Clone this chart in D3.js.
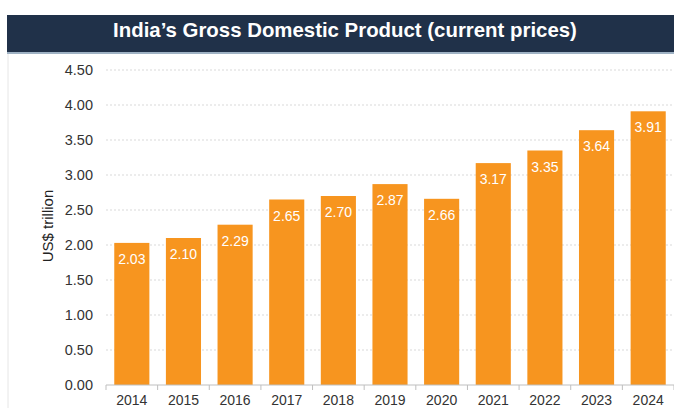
<!DOCTYPE html>
<html><head><meta charset="utf-8">
<script src="https://cdn.jsdelivr.net/npm/d3@7"></script>
<style>body{margin:0;background:#fff;}svg{display:block;font-family:"Liberation Sans",Arial,sans-serif;}</style>
</head><body><svg id="c" width="674" height="408"></svg>
<script>
const years = ["2014","2015","2016","2017","2018","2019","2020","2021","2022","2023","2024"];
const gdp = [2.03,2.10,2.29,2.65,2.70,2.87,2.66,3.17,3.35,3.64,3.91];
const yTicks = [0,0.5,1,1.5,2,2.5,3,3.5,4,4.5];
const title = "India’s Gross Domestic Product (current prices)";
const yTitle = "US$ trillion";

const svg = d3.select("#c");
const W = 674, H = 408;
const m = {left:106, right:0, top:70, bottom:23};

// header
svg.append("rect").attr("x",7).attr("y",15).attr("width",W-7).attr("height",37).attr("fill","#203149");
svg.append("rect").attr("x",7).attr("y",52).attr("width",W-7).attr("height",2).attr("fill","#9fb2c4");
svg.append("line").attr("x1",8).attr("x2",8).attr("y1",54).attr("y2",H).attr("stroke","#e6e6e6");
svg.append("text").attr("x",345).attr("y",37).attr("text-anchor","middle")
  .attr("fill","#fff").attr("font-weight","bold").attr("font-size",20.4).text(title);

const x = d3.scaleBand().domain(years).range([m.left, W - m.right]).paddingInner(0.32).paddingOuter(0.16);
const y = d3.scaleLinear().domain([0,4.5]).range([H - m.bottom, m.top]);

// gridlines
svg.append("g").selectAll("line").data(yTicks.filter(d=>d>0)).join("line")
  .attr("x1",m.left).attr("x2",W).attr("y1",d=>y(d)).attr("y2",d=>y(d))
  .attr("stroke","#d9d9d9").attr("stroke-dasharray","2,2");

// y axis labels
const ya = svg.append("g").attr("transform",`translate(${m.left},0)`)
  .call(d3.axisLeft(y).tickValues(yTicks).tickFormat(d3.format(".2f")).tickSize(0).tickPadding(13));
ya.select(".domain").remove();
ya.selectAll("text").attr("font-size",14.5).attr("fill","#333").attr("font-family","'Liberation Sans',Arial,sans-serif");

// bars
svg.append("g").selectAll("rect").data(years).join("rect")
  .attr("x",d=>x(d)).attr("width",x.bandwidth())
  .attr("y",(d,i)=>y(gdp[i])).attr("height",(d,i)=>y(0)-y(gdp[i]))
  .attr("fill","#F7951F");

// labels
svg.append("g").selectAll("text").data(years).join("text")
  .attr("x",d=>x(d)+x.bandwidth()/2).attr("y",(d,i)=>y(gdp[i])+21)
  .attr("text-anchor","middle").attr("fill","#fff").attr("font-size",14)
  .text((d,i)=>gdp[i].toFixed(2));

// x axis
const xa = svg.append("g").attr("transform",`translate(0,${y(0)})`)
  .call(d3.axisBottom(x).tickSize(0).tickPadding(10));
xa.select(".domain").attr("stroke","#bfbfbf").attr("d",`M${m.left},0H${W}`);
xa.selectAll("text").attr("font-size",14).attr("fill","#333").attr("font-family","'Liberation Sans',Arial,sans-serif");
const step = x.step();
const bounds = d3.range(years.length+1).map(i=>m.left + i*step);
svg.append("g").selectAll("line").data(bounds).join("line")
  .attr("x1",d=>d).attr("x2",d=>d).attr("y1",y(0)).attr("y2",y(0)+5).attr("stroke","#bfbfbf");

// y title
svg.append("text").attr("transform",`translate(53,226) rotate(-90)`)
  .attr("text-anchor","middle").attr("font-size",15).attr("fill","#222").text(yTitle);
</script></body></html>
